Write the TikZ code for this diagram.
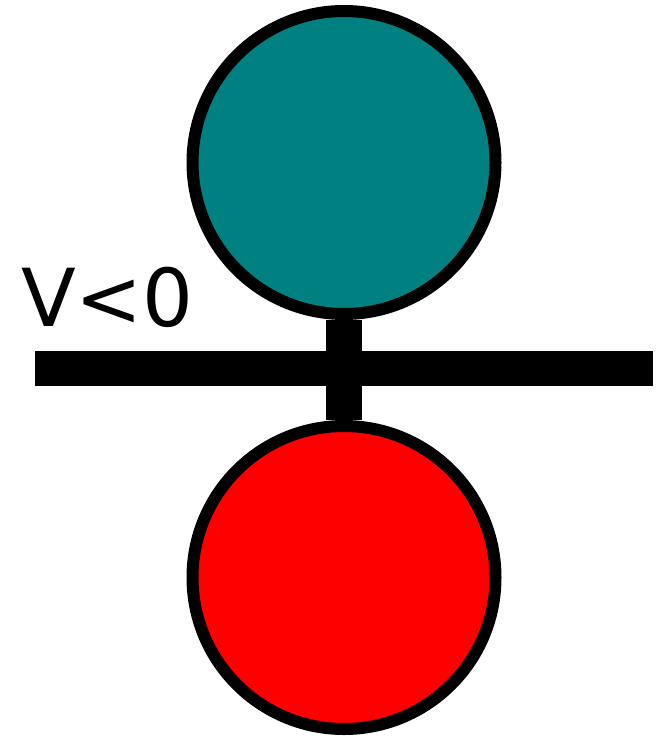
\documentclass[tikz,border=0pt]{standalone}
\usepackage{fontspec}
\setmainfont{DejaVu Sans}
\usepackage{tikz}
\usetikzlibrary{positioning, calc}
\definecolor{ballteal}{RGB}{0, 128, 128}
\definecolor{ballred}{RGB}{255, 0, 0}

\begin{document}
\begin{tikzpicture}[x=1pt, y=-1pt,
    ball/.style={circle, draw=black, line width=12pt, inner sep=0pt,
                 minimum size=303pt}]
    \useasboundingbox (0,0) rectangle (662,738);
    % Wall line
    \coordinate (wallleft) at (35,368.5);
    \coordinate (wallright) at (653,368.5);
    \draw[line width=35pt, black] (wallleft) -- (wallright);
    % Upper and lower balls
    \node[ball, fill=ballteal] (upper) at (344,162.5) {};
    \node[ball, fill=ballred] (lower) at (344,577.5) {};
    % Stem through the wall
    \draw[line width=36pt, black] (upper.south) -- (lower.north);
    % Label
    \node[anchor=base west, inner sep=0pt, font=\fontsize{80}{80}\selectfont]
        (vlabel) at (21,326) {V<0};
\end{tikzpicture}
\end{document}
